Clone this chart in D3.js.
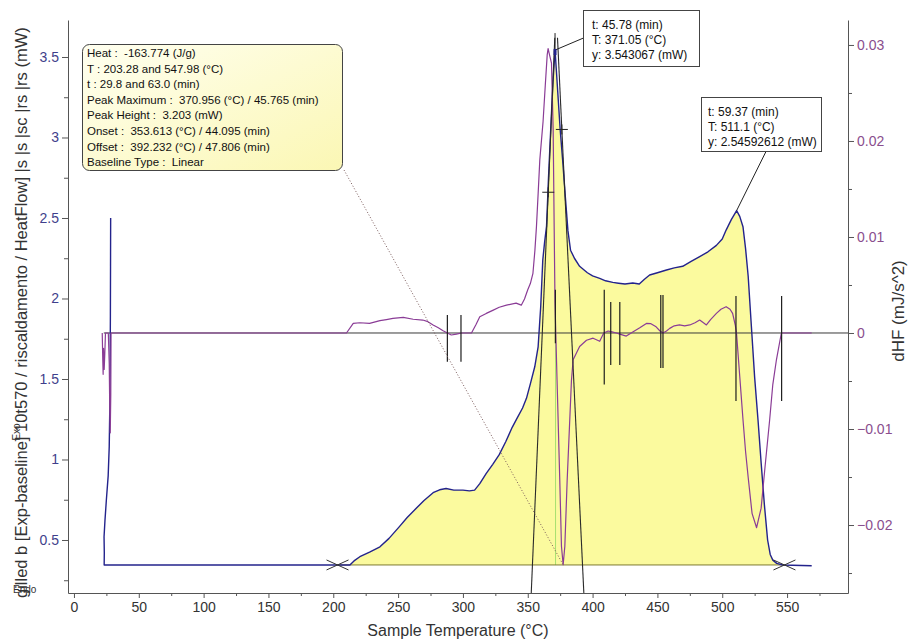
<!DOCTYPE html>
<html>
<head>
<meta charset="utf-8">
<script src="https://cdn.jsdelivr.net/npm/d3@7"></script>
<style>
  body { margin: 0; background: #fff; }
  svg { display: block; font-family: Arial, "Liberation Sans", sans-serif; }
  text { white-space: pre; }
</style>
</head>
<body>
<svg id="chart" width="919" height="640"></svg>
<script>
// ---- Heat flow, baseline-corrected (mW) against sample temperature (°C) ----
const hfTemp = [28.3, 28.2, 28.1, 27.9, 27.6, 27.2, 26.4, 25.0, 23.9, 23.2, 23.4, 23.3, 30,
  212.8, 216, 220.5, 228, 236, 243, 251, 257, 264, 270, 277, 282, 287, 293, 300, 305, 309,
  313, 318, 323, 328, 333, 338, 342, 346, 349, 352, 355.4, 358, 360, 361.6, 363, 364.5,
  366, 368, 369.5, 371.05, 373, 375, 377, 379, 381, 383, 386, 390, 396, 400, 405.5, 410,
  415.6, 420, 425, 431, 436, 440, 444, 450, 457, 463, 469.5, 476, 482.6, 489, 495.5, 500,
  503, 507, 511.1, 513.5, 516, 518, 520, 522.5, 525, 527.6, 530, 532.5, 535, 537, 539,
  542, 546.6, 569];
const hfValue = [2.5, 2.2, 1.9, 1.6, 1.3, 1.08, 0.9, 0.75, 0.62, 0.52, 0.42, 0.345, 0.345,
  0.345, 0.37, 0.396, 0.425, 0.458, 0.51, 0.583, 0.64, 0.697, 0.745, 0.794, 0.812, 0.82, 0.81, 0.81, 0.805, 0.81,
  0.85, 0.914, 0.97, 1.03, 1.11, 1.2, 1.26, 1.32, 1.38, 1.47, 1.576, 1.7, 1.95, 2.24, 2.35, 2.45,
  2.75, 3.1, 3.35, 3.543067, 3.3, 3.05, 2.85, 2.63, 2.42, 2.3, 2.25, 2.2, 2.16, 2.14, 2.125, 2.11,
  2.1, 2.095, 2.09, 2.096, 2.09, 2.12, 2.146, 2.16, 2.177, 2.19, 2.2, 2.23, 2.26, 2.29, 2.33, 2.37,
  2.425, 2.49, 2.54592612, 2.51, 2.446, 2.31, 2.14, 1.825, 1.51, 1.245, 0.98, 0.72, 0.5, 0.41, 0.375,
  0.355, 0.345, 0.34];

// ---- Derivative of the heat flow, dHF (mJ/s^2) ----
const dTemp = [21.8, 22.2, 22.5, 22.8, 23.3, 23.8, 24.3, 26.5, 27.2, 27.6, 28.0, 28.4, 28.6,
  210.2, 215.4, 220.5, 228, 236, 241, 246, 254, 261.6, 269, 273, 277, 281, 284.7, 288, 291, 295,
  299, 306.6, 310, 313, 318, 323, 328, 333.6, 341, 345, 347.5, 350, 352, 354, 355.5, 356.7, 358,
  359.3, 361.8, 363.5, 365, 365.7, 366.8, 368.3, 369.6, 370.4, 371, 372.6, 374.7, 376, 377.3,
  378.6, 380.4, 383.7, 385, 390, 395.3, 400.4, 405.5, 408.6, 412, 415, 418.4, 421, 426, 431,
  436.4, 441.5, 445, 449, 452, 454.3, 457, 459.5, 463, 467, 471, 475, 479, 482.6, 485.5, 487.8,
  491, 495.5, 499, 503, 506, 508, 510, 511, 513.5, 516, 518, 520, 523, 526.5, 530, 533, 536.6,
  539, 541.8, 545.6, 569];
const dValue = [0, -0.0027, -0.0043, -0.0016, -0.0038, -0.0021, 0, 0, -0.0032, -0.008, -0.0104, -0.0064, 0,
  0, 0.001, 0.00107, 0.001, 0.00129, 0.0014, 0.00152, 0.00163, 0.00143, 0.00135, 0.00118, 0.00084, 0.00054, 0.00024, 0, -0.00021, -0.00011,
  0, 0, 0.00086, 0.0017, 0.00204, 0.00236, 0.00268, 0.0029, 0.00311, 0.0029, 0.00354, 0.0045, 0.00515, 0.00622, 0.00858, 0.01105, 0.01449,
  0.01803, 0.022, 0.02575, 0.02897, 0.02961, 0.02897, 0.02811, 0.02114, 0.01073, 0.00322, -0.00494, -0.01534, -0.02221, -0.02414,
  -0.02221, -0.01534, -0.00494, -0.00279, -0.0014, -0.00075, -0.00054, -0.00086, 0, 0.00021, 0.00011, 0, -0.00011, -0.00032, 0.00011,
  0.00054, 0.001, 0.00097, 0.00064, 0.00021, 0, 0.00021, 0.00048, 0.00075, 0.00084, 0.00075, 0.00084, 0.00107, 0.00135, 0.00107, 0.00084,
  0.00139, 0.00204, 0.00247, 0.00274, 0.00247, 0.00204, 0.00086, 0, -0.00451, -0.00901, -0.01234, -0.01502, -0.01878, -0.02028, -0.01824, -0.01395, -0.00901,
  -0.00537, -0.00279, 0, 0];

// ---- Peak integration ----
const integStart = 203.28, integEnd = 547.98, baseLevel = 0.345;
const onsetT = 353.613, offsetT = 392.232;
const peakT = 371.05, peakHF = 3.543067;
const shoulderT = 511.1, shoulderHF = 2.54592612;
const onsetTangentPoint = [365.8, 2.66];
const offsetTangentPoint = [376.3, 3.05];

// ---- Derivative event markers (°C) with their extent in dHF units ----
const markerTemps  = [288, 298.5, 371.3, 409, 414, 421, 452.6, 454.3, 510.6, 545.8];
const markerTop    = [0.00188, 0.00188, 0.00451, 0.00451, 0.00322, 0.00322, 0.00397, 0.00397, 0.00386, 0.00386];
const markerBottom = [-0.003, -0.003, -0.00107, -0.00537, -0.00333, -0.00333, -0.00365, -0.00365, -0.00708, -0.00708];

// ---- Ticks and texts ----
const xTicks = [0, 50, 100, 150, 200, 250, 300, 350, 400, 450, 500, 550];
const xMinorTicks = [25, 75, 125, 175, 225, 275, 325, 375, 425, 475, 525, 575];
const yLeftTicks = [0.5, 1, 1.5, 2, 2.5, 3, 3.5];
const yLeftMinor = [0.25, 0.75, 1.25, 1.75, 2.25, 2.75, 3.25];
const yRightTicks = [-0.02, -0.01, 0, 0.01, 0.02, 0.03];
const yRightMinor = [-0.025, -0.015, -0.005, 0.005, 0.015, 0.025];
const peakInfoLines = [
  "Heat :  -163.774 (J/g)",
  "T : 203.28 and 547.98 (°C)",
  "t : 29.8 and 63.0 (min)",
  "Peak Maximum :  370.956 (°C) / 45.765 (min)",
  "Peak Height :  3.203 (mW)",
  "Onset :  353.613 (°C) / 44.095 (min)",
  "Offset :  392.232 (°C) / 47.806 (min)",
  "Baseline Type :  Linear"
];
const peakLabel = ["t: 45.78 (min)", "T: 371.05 (°C)", "y: 3.543067 (mW)"];
const shoulderLabel = ["t: 59.37 (min)", "T: 511.1 (°C)", "y: 2.54592612 (mW)"];
const xTitle = "Sample Temperature (°C)";
const yLeftTitle = "gilled b [Exp-baseline] 10t570 / riscaldamento / HeatFlow] |s |s |sc |rs |rs (mW)";
const yRightTitle = "dHF (mJ/s^2)";

// ---- Layout ----
const plotLeft = 68, plotRight = 848, plotTop = 20, plotBottom = 593;
const x = d3.scaleLinear().domain([-4.6, 597]).range([plotLeft, plotRight]);
const yL = d3.scaleLinear().domain([0.1708, 3.7298]).range([plotBottom, plotTop]);
const yR = d3.scaleLinear().domain([-0.02708, 0.03260]).range([plotBottom, plotTop]);

const svg = d3.select("#chart");
const defs = svg.append("defs");
const grad = defs.append("linearGradient").attr("id", "boxFill")
  .attr("x1", "0").attr("y1", "0").attr("x2", "1").attr("y2", "1");
grad.append("stop").attr("offset", "0%").attr("stop-color", "#fffff0");
grad.append("stop").attr("offset", "100%").attr("stop-color", "#fbf7b4");

// Integrated area between the curve and the linear baseline
const hfPoints = hfTemp.map((t, i) => [t, hfValue[i]]);
const areaPts = hfPoints.slice(12).filter(p => p[0] >= integStart && p[0] <= integEnd);
areaPts.unshift([integStart, baseLevel]);
areaPts.push([integEnd, baseLevel]);
svg.append("path")
  .attr("d", d3.area().x(p => x(p[0])).y0(yL(baseLevel)).y1(p => yL(p[1]))(areaPts))
  .attr("fill", "#fbfa9e");

// Zero line of the derivative
svg.append("line")
  .attr("x1", x(23)).attr("x2", plotRight).attr("y1", yR(0)).attr("y2", yR(0))
  .attr("stroke", "#3a3a3a").attr("stroke-width", 1);

// Light marker at the peak maximum
svg.append("line")
  .attr("x1", x(peakT) + 0.5).attr("x2", x(peakT) + 0.5)
  .attr("y1", yR(-0.001)).attr("y2", yL(baseLevel))
  .attr("stroke", "#a8e070").attr("stroke-width", 1);

// Baseline
svg.append("line")
  .attr("x1", x(integStart)).attr("x2", x(integEnd))
  .attr("y1", yL(baseLevel)).attr("y2", yL(baseLevel))
  .attr("stroke", "#7d7a32").attr("stroke-width", 1);

// Heat flow curve
svg.append("path")
  .attr("d", d3.line().x(p => x(p[0])).y(p => yL(p[1]))(hfPoints))
  .attr("fill", "none").attr("stroke", "#23238c").attr("stroke-width", 1.4)
  .attr("stroke-linejoin", "round");

// Derivative curve
const dPoints = dTemp.map((t, i) => [t, dValue[i]]);
svg.append("path")
  .attr("d", d3.line().x(p => x(p[0])).y(p => yR(p[1]))(dPoints))
  .attr("fill", "none").attr("stroke", "#8a3c96").attr("stroke-width", 1.2)
  .attr("stroke-linejoin", "round");

// Derivative event markers
svg.append("g").selectAll("line").data(markerTemps).join("line")
  .attr("x1", t => x(t)).attr("x2", t => x(t))
  .attr("y1", (t, i) => yR(markerTop[i])).attr("y2", (t, i) => yR(markerBottom[i]))
  .attr("stroke", "#1e1e1e").attr("stroke-width", 1.2);

// Onset / offset tangents
function tangent(t0, p) {
  const slope = (p[0] - t0) / (p[1] - baseLevel);
  const tAt = v => t0 + (v - baseLevel) * slope;
  return [[tAt(0.1708), 0.1708], [tAt(3.62), 3.62]];
}
[tangent(onsetT, onsetTangentPoint), tangent(offsetT, offsetTangentPoint)].forEach(seg => {
  svg.append("line")
    .attr("x1", x(seg[0][0])).attr("y1", yL(seg[0][1]))
    .attr("x2", x(seg[1][0])).attr("y2", yL(seg[1][1]))
    .attr("stroke", "#2a2a2a").attr("stroke-width", 1.1);
});
[onsetTangentPoint, offsetTangentPoint].forEach(p => {
  const cx = x(p[0]), cy = yL(p[1]);
  svg.append("path").attr("d", `M${cx - 6},${cy}H${cx + 6}M${cx},${cy - 5}V${cy + 5}`)
    .attr("stroke", "#222").attr("stroke-width", 1);
});

// Integration limit crosses
[integStart, integEnd].forEach(t => {
  const cx = x(t), cy = yL(baseLevel);
  svg.append("path").attr("d", `M${cx - 11},${cy - 5}L${cx + 11},${cy + 5}M${cx - 11},${cy + 5}L${cx + 11},${cy - 5}`)
    .attr("stroke", "#333").attr("stroke-width", 1);
});

// Axes
function styleAxis(g, color) {
  g.select(".domain").attr("stroke", "#555");
  g.selectAll(".tick line").attr("stroke", "#555");
  g.selectAll(".tick text").attr("fill", color).style("font-size", "14px")
    .style("font-family", "Arial, 'Liberation Sans', sans-serif");
}
const gx = svg.append("g").attr("transform", `translate(0,${plotBottom})`)
  .call(d3.axisBottom(x).tickValues(xTicks).tickSize(5).tickSizeOuter(0).tickPadding(4).tickFormat(d3.format("d")));
styleAxis(gx, "#333");
svg.append("g").attr("transform", `translate(0,${plotBottom})`)
  .call(d3.axisBottom(x).tickValues(xMinorTicks).tickSize(3).tickFormat(""))
  .call(g => { g.select(".domain").remove(); g.selectAll("line").attr("stroke", "#555"); });

const gl = svg.append("g").attr("transform", `translate(${plotLeft},0)`)
  .call(d3.axisLeft(yL).tickValues(yLeftTicks).tickSize(6).tickSizeOuter(0).tickPadding(3).tickFormat(d3.format("~g")));
styleAxis(gl, "#3f3f8c");
svg.append("g").attr("transform", `translate(${plotLeft},0)`)
  .call(d3.axisLeft(yL).tickValues(yLeftMinor).tickSize(4).tickFormat(""))
  .call(g => { g.select(".domain").remove(); g.selectAll("line").attr("stroke", "#555"); });

const gr = svg.append("g").attr("transform", `translate(${plotRight},0)`)
  .call(d3.axisRight(yR).tickValues(yRightTicks).tickSize(6).tickSizeOuter(0).tickPadding(3).tickFormat(d3.format("~g")));
styleAxis(gr, "#8a4e8e");
svg.append("g").attr("transform", `translate(${plotRight},0)`)
  .call(d3.axisRight(yR).tickValues(yRightMinor).tickSize(4).tickFormat(""))
  .call(g => { g.select(".domain").remove(); g.selectAll("line").attr("stroke", "#555"); });

// Axis titles
svg.append("text").attr("x", (plotLeft + plotRight) / 2).attr("y", 636)
  .attr("text-anchor", "middle").attr("fill", "#333").style("font-size", "16px").text(xTitle);
svg.append("text").attr("transform", "translate(27,598) rotate(-90)")
  .attr("text-anchor", "start").attr("fill", "#333").style("font-size", "16.5px").text(yLeftTitle);
svg.append("text").attr("transform", "translate(904,311) rotate(-90)")
  .attr("text-anchor", "middle").attr("fill", "#333").style("font-size", "17px").text(yRightTitle);
svg.append("text").attr("transform", "translate(20,432) rotate(-90)")
  .attr("text-anchor", "middle").attr("fill", "#333").style("font-size", "10px").text("Exo");
svg.append("text").attr("x", 13).attr("y", 593)
  .attr("fill", "#333").style("font-size", "10px").text("Endo");

// Dotted leader from the integration box to the derivative minimum
svg.append("line")
  .attr("x1", 344).attr("y1", 170).attr("x2", x(377.3)).attr("y2", yR(-0.02414))
  .attr("stroke", "#7a5a5a").attr("stroke-width", 1).attr("stroke-dasharray", "1,2");

// Integration result box
svg.append("rect").attr("x", 82.5).attr("y", 44.5).attr("width", 260).attr("height", 126)
  .attr("rx", 7).attr("fill", "url(#boxFill)").attr("stroke", "#444");
svg.append("g").selectAll("text").data(peakInfoLines).join("text")
  .attr("x", 87).attr("y", (d, i) => 57 + i * 15.6)
  .attr("fill", "#111").style("font-size", "11.5px").text(d => d);

// Peak and shoulder readouts
function readout(lines, bx, by, bw, bh, tx, px, py, lx, ly, tick) {
  svg.append("line").attr("x1", px).attr("y1", py).attr("x2", lx).attr("y2", ly)
    .attr("stroke", "#222").attr("stroke-width", 1);
  if (tick) {
    svg.append("line").attr("x1", px).attr("y1", py).attr("x2", px).attr("y2", py - 17)
      .attr("stroke", "#222").attr("stroke-width", 1);
    svg.append("rect").attr("x", px - 1.5).attr("y", py - 1).attr("width", 3).attr("height", 6)
      .attr("fill", "#23238c");
  }
  svg.append("rect").attr("x", bx + 0.5).attr("y", by + 0.5).attr("width", bw).attr("height", bh)
    .attr("fill", "#fff").attr("stroke", "#444");
  svg.append("g").selectAll("text").data(lines).join("text")
    .attr("x", tx).attr("y", (d, i) => by + 19 + i * 15)
    .attr("fill", "#111").style("font-size", "12px").text(d => d);
}
readout(peakLabel, 583, 10, 116, 56, 592, x(peakT), yL(peakHF), 583.5, 38, true);
readout(shoulderLabel, 701, 97, 120, 54, 708, x(shoulderT), yL(shoulderHF), 766, 151.5, false);
</script>
</body>
</html>
